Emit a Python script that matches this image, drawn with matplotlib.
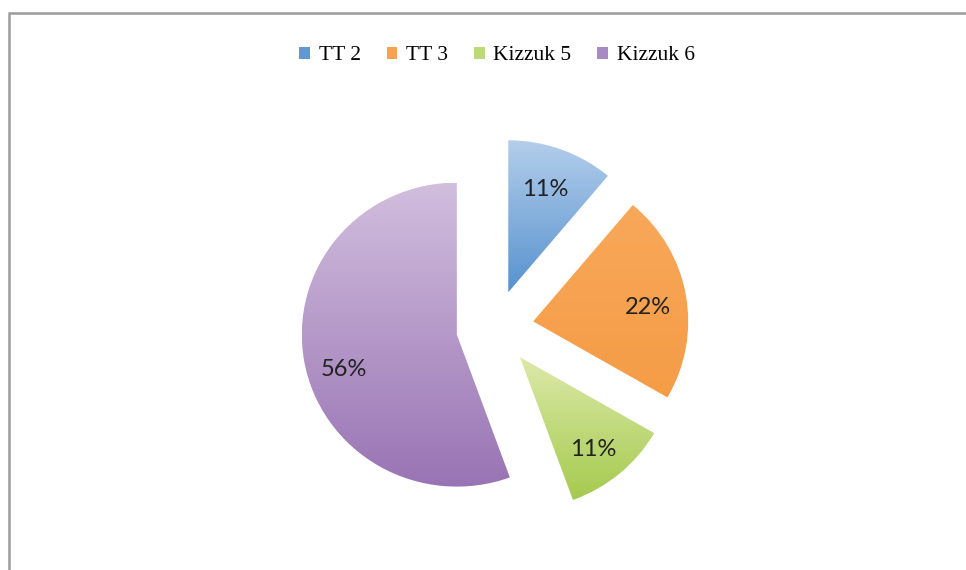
import numpy as np
import matplotlib.pyplot as plt
from matplotlib.patches import Patch, Rectangle
from matplotlib.colors import LinearSegmentedColormap

labels = ["TT 2", "TT 3", "Kizzuk 5", "Kizzuk 6"]
values = [1, 2, 1, 5]
tops = ["#b4ceeb", "#f8a85a", "#dce9aa", "#d1bedd"]
bottoms = ["#5792cf", "#f59c46", "#a5ca4e", "#9974b4"]
legend_colors = ["#5f98d3", "#f7a251", "#bcd97c", "#a98bc3"]

W, H = 966, 570
SX = 1.02  # pie is drawn slightly wider than tall
R = 152
fig = plt.figure(figsize=(W / 100, H / 100), dpi=100)
ax = fig.add_axes([0, 0, 1, 1])

# outer frame (only left and top edges fall inside the image)
fig.patches.append(Rectangle((9 / W, -0.1), 1.2, 1 - 13 / H + 0.1, transform=fig.transFigure,
                             fill=False, edgecolor="#9c9c9c", linewidth=1.8))

# explode is in data units here
wedges, texts = ax.pie(values, center=(495 / SX, H - 328), radius=R, startangle=90,
                       counterclock=False, explode=[38] * 4,
                       labels=[f"{v / sum(values) * 100:.0f}%" for v in values],
                       labeldistance=0.74, frame=True,
                       textprops=dict(family="Lato", fontsize=17, color="#222222"))
ax.set_xlim(0, W / SX)
ax.set_ylim(0, H)
ax.set_aspect("auto")
ax.axis("off")

# vertical gradient fill for each slice
for w, c0, c1 in zip(wedges, tops, bottoms):
    ext = w.get_path().get_extents(w.get_transform() - ax.transData)
    cmap = LinearSegmentedColormap.from_list("g", [c1, c0])
    grad = np.linspace(0, 1, 256).reshape(-1, 1)
    w.set_facecolor("none")
    w.set_edgecolor("none")
    im = ax.imshow(grad, cmap=cmap, origin="lower", aspect="auto",
                   extent=[ext.x0, ext.x1, ext.y0, ext.y1], zorder=1)
    im.set_clip_path(w)
ax.set_xlim(0, W / SX)
ax.set_ylim(0, H)

offsets = [(-2, -3), (2, -6), (0, -6), (0, -15)]
for t, (dx, dy) in zip(texts, offsets):
    x, y = t.get_position()
    t.set_position((x + dx, y + dy))
    t.set_ha("center")
    t.set_va("center")
    t.set_zorder(3)

handles = [Patch(facecolor=c, edgecolor="none") for c in legend_colors]
fig.legend(handles, labels, loc="center", bbox_to_anchor=(497 / W, 1 - 56 / H), ncol=4,
           frameon=False, handlelength=0.5, handleheight=0.5, handletextpad=0.4,
           columnspacing=1.2, prop=dict(family="Liberation Serif", size=15.5))

fig.savefig("out.png", dpi=100)
